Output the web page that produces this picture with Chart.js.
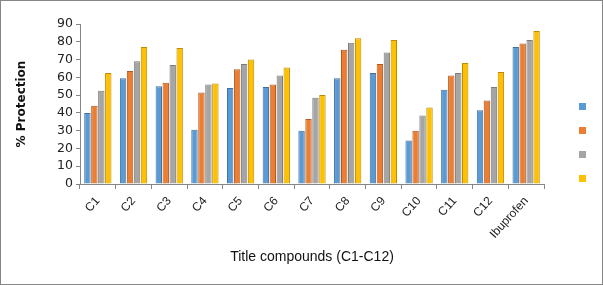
<!DOCTYPE html>
<html>
<head>
<meta charset="utf-8">
<script src="https://cdn.jsdelivr.net/npm/chart.js@4"></script>
<style>
  html, body { margin: 0; padding: 0; background: #fff; }
  #wrap { position: relative; width: 603px; height: 285px; box-sizing: border-box; border: 1px solid #868686; }
  #chart { position: absolute; left: 0; top: 0; }
</style>
</head>
<body>
<div id="wrap"><canvas id="chart" width="603" height="285"></canvas></div>
<script>
const categories = ['C1', 'C2', 'C3', 'C4', 'C5', 'C6', 'C7', 'C8', 'C9', 'C10', 'C11', 'C12', 'Ibuprofen'];
const series1 = [40, 59.5, 55, 30.5, 54, 54.5, 30, 59.5, 62.5, 24.5, 53, 41.5, 77];
const series2 = [44, 63.5, 57, 51.5, 64.5, 56, 36.5, 75.5, 67.5, 30, 61, 47, 79];
const series3 = [52.5, 69, 67, 56, 67.5, 61, 48.5, 79.5, 74, 38.5, 62.5, 54.5, 81];
const series4 = [62.5, 77, 76.5, 56.5, 70, 65.5, 50, 82, 81, 43, 68, 63, 86];
const yTicks = [0, 10, 20, 30, 40, 50, 60, 70, 80, 90];

const fills = ['#5B9BD5', '#ED7D31', '#A5A5A5', '#FFC000'];
const edges = ['#41719C', '#AE5A21', '#7C7C7C', '#BC8C00'];

// legend is only coloured squares, no text
const squareLegend = {
    id: 'squareLegend',
    afterDraw(chart) {
        const ctx = chart.ctx;
        chart.data.datasets.forEach((ds, i) => {
            ctx.fillStyle = ds.backgroundColor;
            ctx.fillRect(578, 102 + i * 24, 7, 7);
        });
    }
};

const ctx = document.getElementById('chart').getContext('2d');
const chart = new Chart(ctx, {
    type: 'bar',
    data: {
        labels: categories,
        datasets: [series1, series2, series3, series4].map((d, i) => ({
            label: 'Series ' + (i + 1),
            data: d,
            backgroundColor: fills[i],
            borderColor: edges[i],
            borderWidth: 1,
            barPercentage: 0.92,
            categoryPercentage: 0.78
        }))
    },
    options: {
        responsive: false,
        animation: false,
        layout: { padding: { top: 23, right: 60, left: 0, bottom: 0 } },
        plugins: {
            legend: { display: false },
            tooltip: { enabled: false }
        },
        scales: {
            x: {
                grid: { display: true, drawOnChartArea: false, drawTicks: true, tickLength: 5, color: '#868686' },
                border: { color: '#868686' },
                ticks: {
                    color: '#222',
                    autoSkip: false,
                    font: { family: 'Liberation Sans', size: 12 },
                    minRotation: 48, maxRotation: 48, padding: 5
                },
                title: {
                    display: true,
                    text: 'Title compounds (C1-C12)',
                    color: '#111',
                    font: { family: 'Liberation Sans', size: 14 },
                    padding: 20
                },
                afterFit(scale) { scale.height = 102; }
            },
            y: {
                min: 0, max: 90,
                grid: { drawOnChartArea: false, drawTicks: true, tickLength: 4, color: '#868686' },
                border: { color: '#868686' },
                afterBuildTicks(scale) { scale.ticks = yTicks.map(v => ({ value: v })); },
                ticks: {
                    color: '#222',
                    autoSkip: false,
                    font: { family: 'DejaVu Sans', size: 12.5 },
                    padding: 3
                },
                title: {
                    display: true,
                    text: '% Protection',
                    color: '#111',
                    font: { family: 'DejaVu Sans', size: 12, weight: 'bold' },
                    padding: 14
                },
                afterFit(scale) { scale.width = 79; }
            }
        }
    },
    plugins: [squareLegend]
});
</script>
</body>
</html>
